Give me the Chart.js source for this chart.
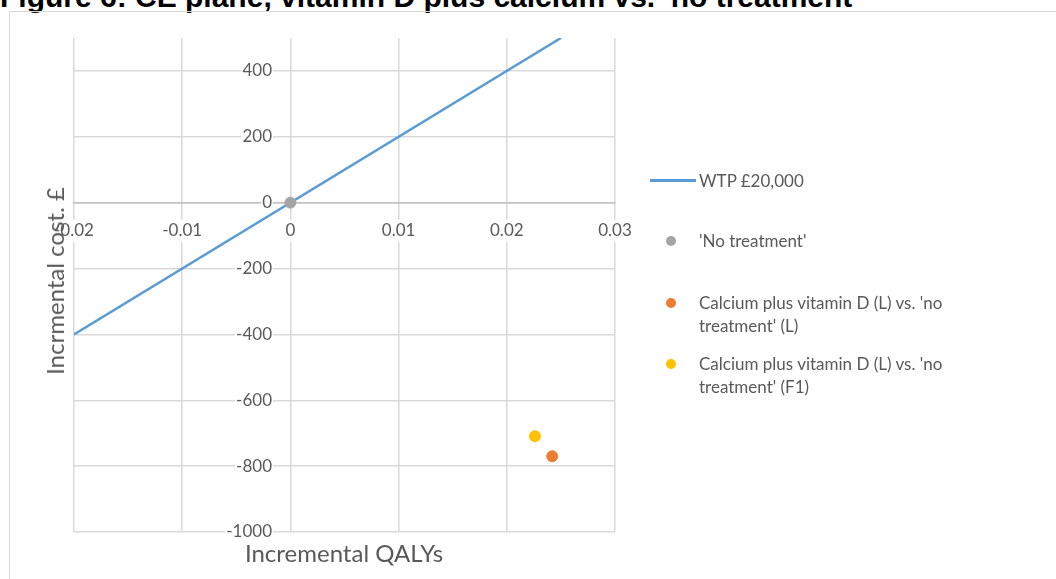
<!DOCTYPE html>
<html>
<head>
<meta charset="utf-8">
<script src="https://cdn.jsdelivr.net/npm/chart.js@4"></script>
<style>
  html, body { margin: 0; padding: 0; background: #fff; }
  #wrap { position: relative; width: 1056px; height: 579px; overflow: hidden; font-family: Lato, "Open Sans", sans-serif; color: #595959; }
  #titulo { position: absolute; left: 0; top: -18px; font: bold 30px/30px "Liberation Sans", Arial, sans-serif; color: #000; white-space: nowrap; }
  #marco { position: absolute; left: 9px; top: 11px; width: 1060px; height: 600px; border-left: 1px solid #d9d9d9; border-top: 1px solid #d9d9d9; }
  canvas { position: absolute; left: 0; top: 0; }
  .tituloEje { position: absolute; font-size: 24px; line-height: 24px; white-space: nowrap; }
  #ejeY { left: 55px; top: 281px; transform: translate(-50%, -50%) rotate(-90deg); }
  #ejeX { left: 344px; top: 553px; transform: translate(-50%, -50%); }
  .item { position: absolute; font-size: 17px; line-height: 23px; }
  .punto { position: absolute; width: 10px; height: 10px; border-radius: 50%; }
</style>
</head>
<body>
<div id="wrap">
  <div id="titulo">Figure 6: CE plane, vitamin D plus calcium vs. 'no treatment'</div>
  <div id="marco"></div>
  <canvas id="grafico_ce" width="1056" height="579"></canvas>
  <div class="tituloEje" id="ejeY">Incrmental cost. £</div>
  <div class="tituloEje" id="ejeX">Incremental QALYs</div>
  <div id="leyenda"></div>
</div>
<script>
// Linea de disposicion a pagar (WTP)
const wtpQaly = [-0.02, 0.025];
const wtpCosto = [-400, 500];

// Puntos del plano CE
const nombresPuntos = ["'No treatment'", "Calcium plus vitamin D (L) vs. 'no treatment' (L)", "Calcium plus vitamin D (L) vs. 'no treatment' (F1)"];
const qalyPuntos = [0, 0.0242, 0.0226];
const costoPuntos = [0, -770, -709];
const coloresPuntos = ['#a5a5a5', '#ed7d31', '#ffc000'];

const azul = '#5b9bd5';

const datasets = [
  {
    label: 'WTP £20,000',
    type: 'line',
    data: wtpQaly.map((q, i) => ({ x: q, y: wtpCosto[i] })),
    borderColor: azul,
    borderWidth: 2.5,
    pointRadius: 0,
    showLine: true,
    order: 2,
  },
];

nombresPuntos.forEach((nombre, i) => {
  datasets.push({
    label: nombre,
    data: [{ x: qalyPuntos[i], y: costoPuntos[i] }],
    backgroundColor: coloresPuntos[i],
    borderColor: coloresPuntos[i],
    pointRadius: 5.5,
    order: 1,
  });
});

const fuenteTicks = { family: 'Lato, "Open Sans", sans-serif', size: 17 };

const grafica = new Chart(document.getElementById('grafico_ce'), {
  type: 'scatter',
  data: { datasets: datasets },
  options: {
    responsive: false,
    animation: false,
    layout: { padding: { left: 74, right: 441, top: 38, bottom: 47 } },
    plugins: { legend: { display: false }, tooltip: { enabled: false } },
    scales: {
      x: {
        type: 'linear',
        position: { y: 0 },
        min: -0.02,
        max: 0.03,
        ticks: {
          stepSize: 0.01, color: '#595959', font: fuenteTicks, padding: 18,
          showLabelBackdrop: true, backdropColor: '#fff', backdropPadding: 1,
          callback: (v) => String(Math.round(v * 100) / 100),
        },
        grid: { color: '#d9d9d9', lineWidth: 1.5, drawTicks: false },
        border: { color: '#bfbfbf', width: 1.5 },
      },
      y: {
        type: 'linear',
        // las etiquetas quedan pegadas al eje, por eso se corre un poco a la izquierda
        position: { x: -0.0017 },
        min: -1000,
        max: 500,
        afterBuildTicks: (eje) => {
          eje.ticks = eje.ticks.filter((t) => t.value !== 500);
        },
        ticks: {
          stepSize: 200, color: '#595959', font: fuenteTicks,
          showLabelBackdrop: true, backdropColor: '#fff', backdropPadding: 1,
          callback: (v) => String(v),
        },
        grid: { color: '#d9d9d9', lineWidth: 1.5, drawTicks: false },
        border: { display: false },
      },
    },
  },
});

// Leyenda a la derecha, armada a mano
const leyenda = document.getElementById('leyenda');
let html = '<div style="position:absolute;left:650px;top:179px;width:46px;height:3px;background:' + azul + '"></div>';
html += '<div class="item" style="left:699px;top:169px">WTP £20,000</div>';
const filasY = [241, 303, 364];
nombresPuntos.forEach((nombre, i) => {
  html += '<div class="punto" style="left:666px;top:' + (filasY[i] - 5) + 'px;background:' + coloresPuntos[i] + '"></div>';
  html += '<div class="item" style="left:699px;top:' + (filasY[i] - 12) + 'px;width:262px">' + nombre + '</div>';
});
leyenda.innerHTML = html;
</script>
</body>
</html>
